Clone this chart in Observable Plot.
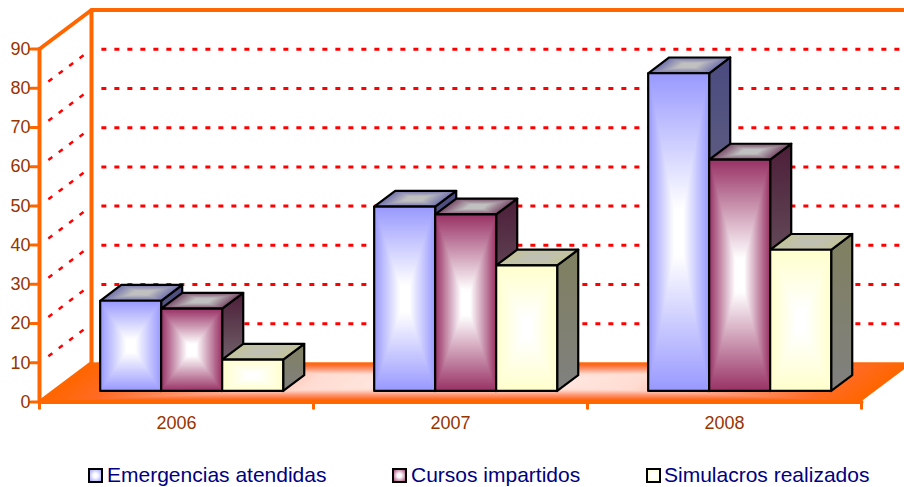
<!DOCTYPE html>
<html><head><meta charset="utf-8">
<script src="https://cdn.jsdelivr.net/npm/d3@7"></script>
<script src="https://cdn.jsdelivr.net/npm/@observablehq/plot@0.6"></script>
<style>
html,body{margin:0;padding:0;background:#fff;overflow:hidden}
svg{display:block}
#legend{position:relative;height:27px;font:21px "Liberation Sans",Arial,sans-serif;color:#000080}
#legend span{position:absolute;top:3px;line-height:24px;white-space:nowrap}
#legend i{position:absolute;top:8px;width:11px;height:11px;border:2px solid #000}
</style></head><body>
<div id="chart"></div><div id="legend"></div>
<script>
const categories = ["2006","2007","2008"];
const seriesNames = ["Emergencias atendidas","Cursos impartidos","Simulacros realizados"];
const emergencias = [23,47,81];
const cursos = [21,45,59];
const simulacros = [8,32,36];
const seriesValues = [emergencias,cursos,simulacros];
const yTicks = [0,10,20,30,40,50,60,70,80,90];
const gridValues = [10,20,30,40,50,60,70,80];
const xTicks = [0,1,2,3];
const frontColors = ["#9999ff","#993366","#ffffcc"];
const topEdge = ["#7474ae","#7c4f6c","#c4c49a"];
const topCenter = ["#c0c0c0","#c0c0c0","#c0c0b4"];
const sideTop = ["#4a4a80","#4c1e38","#808060"];
const sideBottom = ["#808080","#808080","#808080"];
const floorStops = [0,0.13,0.35,0.6,1];
const floorColors = ["#ff6600","#ff6c28","#ff9a78","#ffdcd2","#fff4f0"];
const legendLeft = [88,392,646], legendTextLeft = [107,411,664];

// depth of the 3-D box, in scale units
const DX = 52/274, DY = 9.94;
const BARW = 61/274, BAR0 = 0.172, D0 = 0.27, D1 = 0.405, N = 90;
const mix = (a,b,k)=>d3.interpolateRgb(a,b)(Math.min(1,k));

// nested parallelogram rings: a "box" gradient from edge to centre
function para(xl,xr,yf,yb,xs,colorAt,n){
  const rows=[];
  d3.range(n).forEach(k=>{
    const t=1-k/n, cx=(xl+xr+xs)/2, cy=(yf+yb)/2, hw=(xr-xl)/2*t, hh=(yb-yf)/2*t, hs=xs/2*t;
    const c=colorAt(k/n);
    rows.push({k,y:cy-hh,x1:cx-hw-hs,x2:cx+hw-hs,c});
    rows.push({k,y:cy+hh,x1:cx-hw+hs,x2:cx+hw+hs,c});
  });
  return rows;
}
const stripes = rows => Plot.areaX(rows,{y:"y",x1:"x1",x2:"x2",z:"k",fill:"c",curve:"linear"});
const floorColor = d3.scaleLinear().domain(floorStops).range(floorColors).interpolate(d3.interpolateRgb);

function barMarks(i,j,v){
  const l=i+BAR0+j*BARW+D0*DX, r=l+BARW, base=D0*DY, top=base+v;
  const sx=D1*DX, sy=D1*DY;
  const rings=d3.range(N).map(k=>{
    const t=1-k/N, cx=(l+r)/2, cy=(base+top)/2;
    return {x1:cx-(r-l)/2*t,x2:cx+(r-l)/2*t,y1:cy-(top-base)/2*t,y2:cy+(top-base)/2*t,c:mix(frontColors[j],"#ffffff",k/(N*0.85))};
  });
  const side=[{x:r,y1:base,y2:top},{x:r+sx,y1:base+sy,y2:top+sy}];
  const topOut=[{y:top,x1:l,x2:r},{y:top+sy,x1:l+sx,x2:r+sx}];
  const ol={stroke:"#000",strokeWidth:2.2,strokeLinejoin:"round"};
  return [
    Plot.areaY(side,{x:"x",y1:"y1",y2:"y2",fill:`url(#side${j})`,...ol}),
    stripes(para(l,r,top,top+sy,sx,k=>mix(topEdge[j],topCenter[j],k/0.7),30)),
    Plot.areaX(topOut,{y:"y",x1:"x1",x2:"x2",fill:"none",...ol}),
    Plot.rect(rings,{x1:"x1",x2:"x2",y1:"y1",y2:"y2",fill:"c"}),
    Plot.rect([{l,r,base,top}],{x1:"l",x2:"r",y1:"base",y2:"top",fill:"none",...ol})
  ];
}

const ORANGE="#ff6600", RED="#ff0000", BROWN="#993300";
const wall={stroke:ORANGE,strokeWidth:4,strokeLinecap:"round"};
const dash={stroke:RED,strokeDasharray:"5 8",strokeLinecap:"butt"};
const marks=[
  // back-wall dotted grid
  ...gridValues.map(v=>Plot.line([[DX+0.036,v+DY],[3.3,v+DY]],{strokeWidth:3,...dash})),
  // side-wall dotted grid
  ...gridValues.map(v=>Plot.line([[0.17*DX,v+0.17*DY],[0.86*DX,v+0.86*DY]],{strokeWidth:2.5,...dash})),
  // floor
  stripes(para(0,3,0,DY,DX,floorColor,140)),
  // walls
  Plot.line([[0,0],[0,90]],wall),
  Plot.line([[0,90],[DX,90+DY],[3.3,90+DY]],wall),
  Plot.line([[DX,DY],[DX,90+DY]],wall),
  Plot.line([[0,0],[DX,DY]],wall),
  Plot.line([[0,0],[3,0]],wall),
  Plot.ruleX(xTicks,{x:d=>d,y1:0,y2:-1.7,stroke:ORANGE,strokeWidth:3,strokeLinecap:"round"}),
  Plot.axisY(yTicks,{anchor:"left",tickSize:8,tickPadding:1,stroke:ORANGE,strokeWidth:3,strokeLinecap:"round",fill:BROWN,fontSize:18,label:null}),
  Plot.text(categories,{x:(d,i)=>i+0.5,y:()=>0,dy:21,text:d=>d,fill:BROWN,fontSize:18}),
  // bars
  ...categories.flatMap((c,i)=>seriesValues.flatMap((vals,j)=>barMarks(i,j,vals[i])))
];

const svg=Plot.plot({
  width:904,height:460,marginLeft:39,marginRight:43,marginTop:48.5,marginBottom:58.5,
  x:{domain:[0,3],axis:null},y:{domain:[0,90],axis:null},
  color:{type:"identity"},
  style:{fontFamily:"'Liberation Sans',Arial,sans-serif",background:"#fff"},
  marks
});
svg.insertAdjacentHTML("afterbegin",`<defs>${frontColors.map((_,j)=>`<linearGradient id="side${j}" x1="0" y1="0" x2="0" y2="1"><stop offset="0" stop-color="${sideTop[j]}"/><stop offset="1" stop-color="${sideBottom[j]}"/></linearGradient>`).join("")}</defs>`);
document.getElementById("chart").append(svg);

const lg=document.getElementById("legend");
seriesNames.forEach((n,j)=>{
  const b=document.createElement("i");
  b.style.left=legendLeft[j]+"px";
  b.style.background=`radial-gradient(circle,#fff 25%,${frontColors[j]} 110%)`;
  const s=document.createElement("span");
  s.style.left=legendTextLeft[j]+"px"; s.textContent=n;
  lg.append(b,s);
});
</script></body></html>
